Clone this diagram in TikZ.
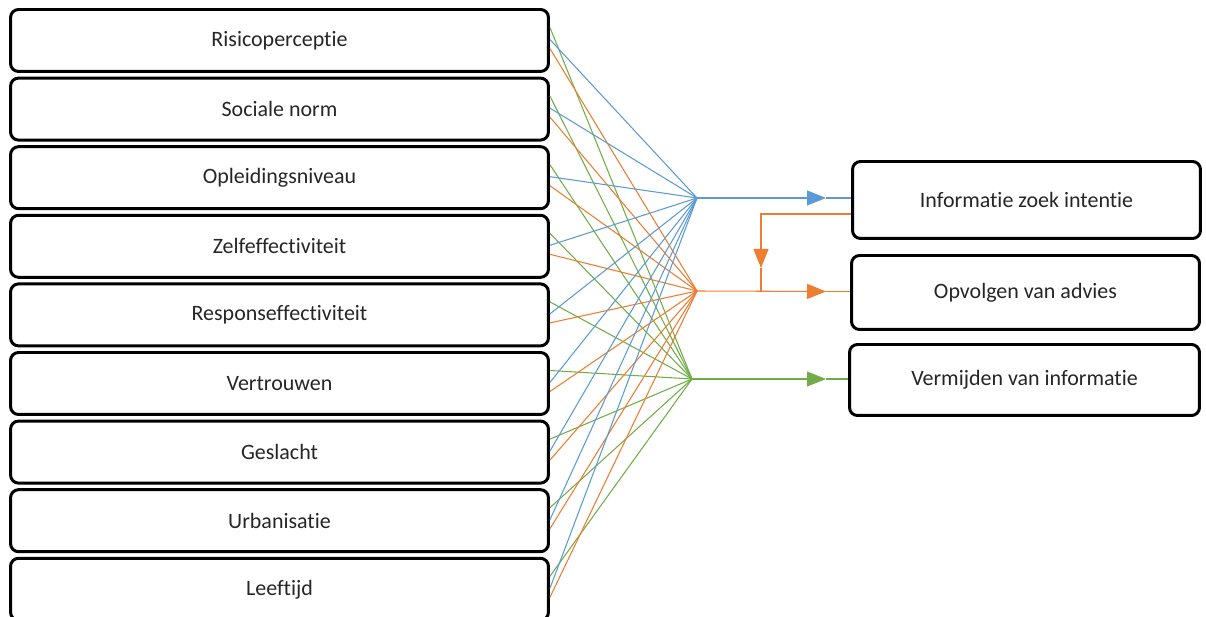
\documentclass[tikz,border=0pt]{standalone}
\usepackage{fontspec}
\setmainfont{Carlito}[Ligatures=NoCommon]
\usetikzlibrary{calc,arrows.meta}

\definecolor{offblue}{HTML}{5B9BD5}
\definecolor{offorange}{HTML}{ED7D31}
\definecolor{offgreen}{HTML}{70AD47}

\begin{document}
\begin{tikzpicture}[x=0.02cm,y=-0.02cm,
	factor/.style={draw=black,line width=1.7pt,rounded corners=0.16cm,minimum width=10.76cm,minimum height=1.24cm,font=\fontsize{12.5}{15}\selectfont,text=black!85},
	outcome/.style={factor,minimum width=6.96cm},
	bline/.style={draw=offblue,line width=0.6pt},
	oline/.style={draw=offorange,line width=0.6pt},
	gline/.style={draw=offgreen,line width=0.6pt},
	tip/.style={-{Triangle[length=0.38cm,width=0.3cm]}}]
	\clip (0,0) rectangle (1206,617);
	
	
	
	% predictors
	\foreach \name [count=\i from 0] in {Risicoperceptie,Sociale norm,Opleidingsniveau,Zelfeffectiviteit,Responseffectiviteit,Vertrouwen,Geslacht,Urbanisatie,Leeftijd}
		\node[factor] (l\i) at (279.5, 40.5+68.6*\i) {\name};
	
	
	
	% outcomes
	\node[outcome,minimum height=1.54cm] (ra) at (1026.5,200) {Informatie zoek intentie};
	\node[outcome,minimum height=1.48cm] (rb) at (1025.5,292.5) {Opvolgen van advies};
	\node[outcome,minimum width=7cm,minimum height=1.42cm] (rc) at (1024.5,380) {Vermijden van informatie};
	
	
	
	% meeting points
	\coordinate (cb) at (697,198);
	\coordinate (co) at (697,291);
	\coordinate (cg) at (692,379);
	
	\foreach \i in {0,...,8} {
		\draw[gline] ($(l\i.east)+(0,-13)$) -- (cg);
		\draw[bline] ($(l\i.east)+(0,-1)$) -- (cb);
		\draw[oline] ($(l\i.east)+(0,8)$) -- (co);
	}
	
	
	
	% arrows to the outcomes
	\coordinate (tb) at (826,198);
	\coordinate (to) at (826,291.5);
	\coordinate (tg) at (826,379);
	\draw[bline,tip] (cb) -- (tb);
	\draw[bline] (tb) -- (tb -| ra.west);
	\draw[oline,tip] (co) -- (to);
	\draw[oline] (to) -- (to -| rb.west);
	\draw[gline,tip] (cg) -- (tg);
	\draw[gline] (tg) -- (tg -| rc.west);
	
	
	
	% feedback from intention
	\coordinate (fb) at (761,268);
	\draw[oline,tip] ($(ra.west)+(0,14)$) -| (fb);
	\draw[oline] (fb) -- (fb |- co);
	
\end{tikzpicture}
\end{document}
